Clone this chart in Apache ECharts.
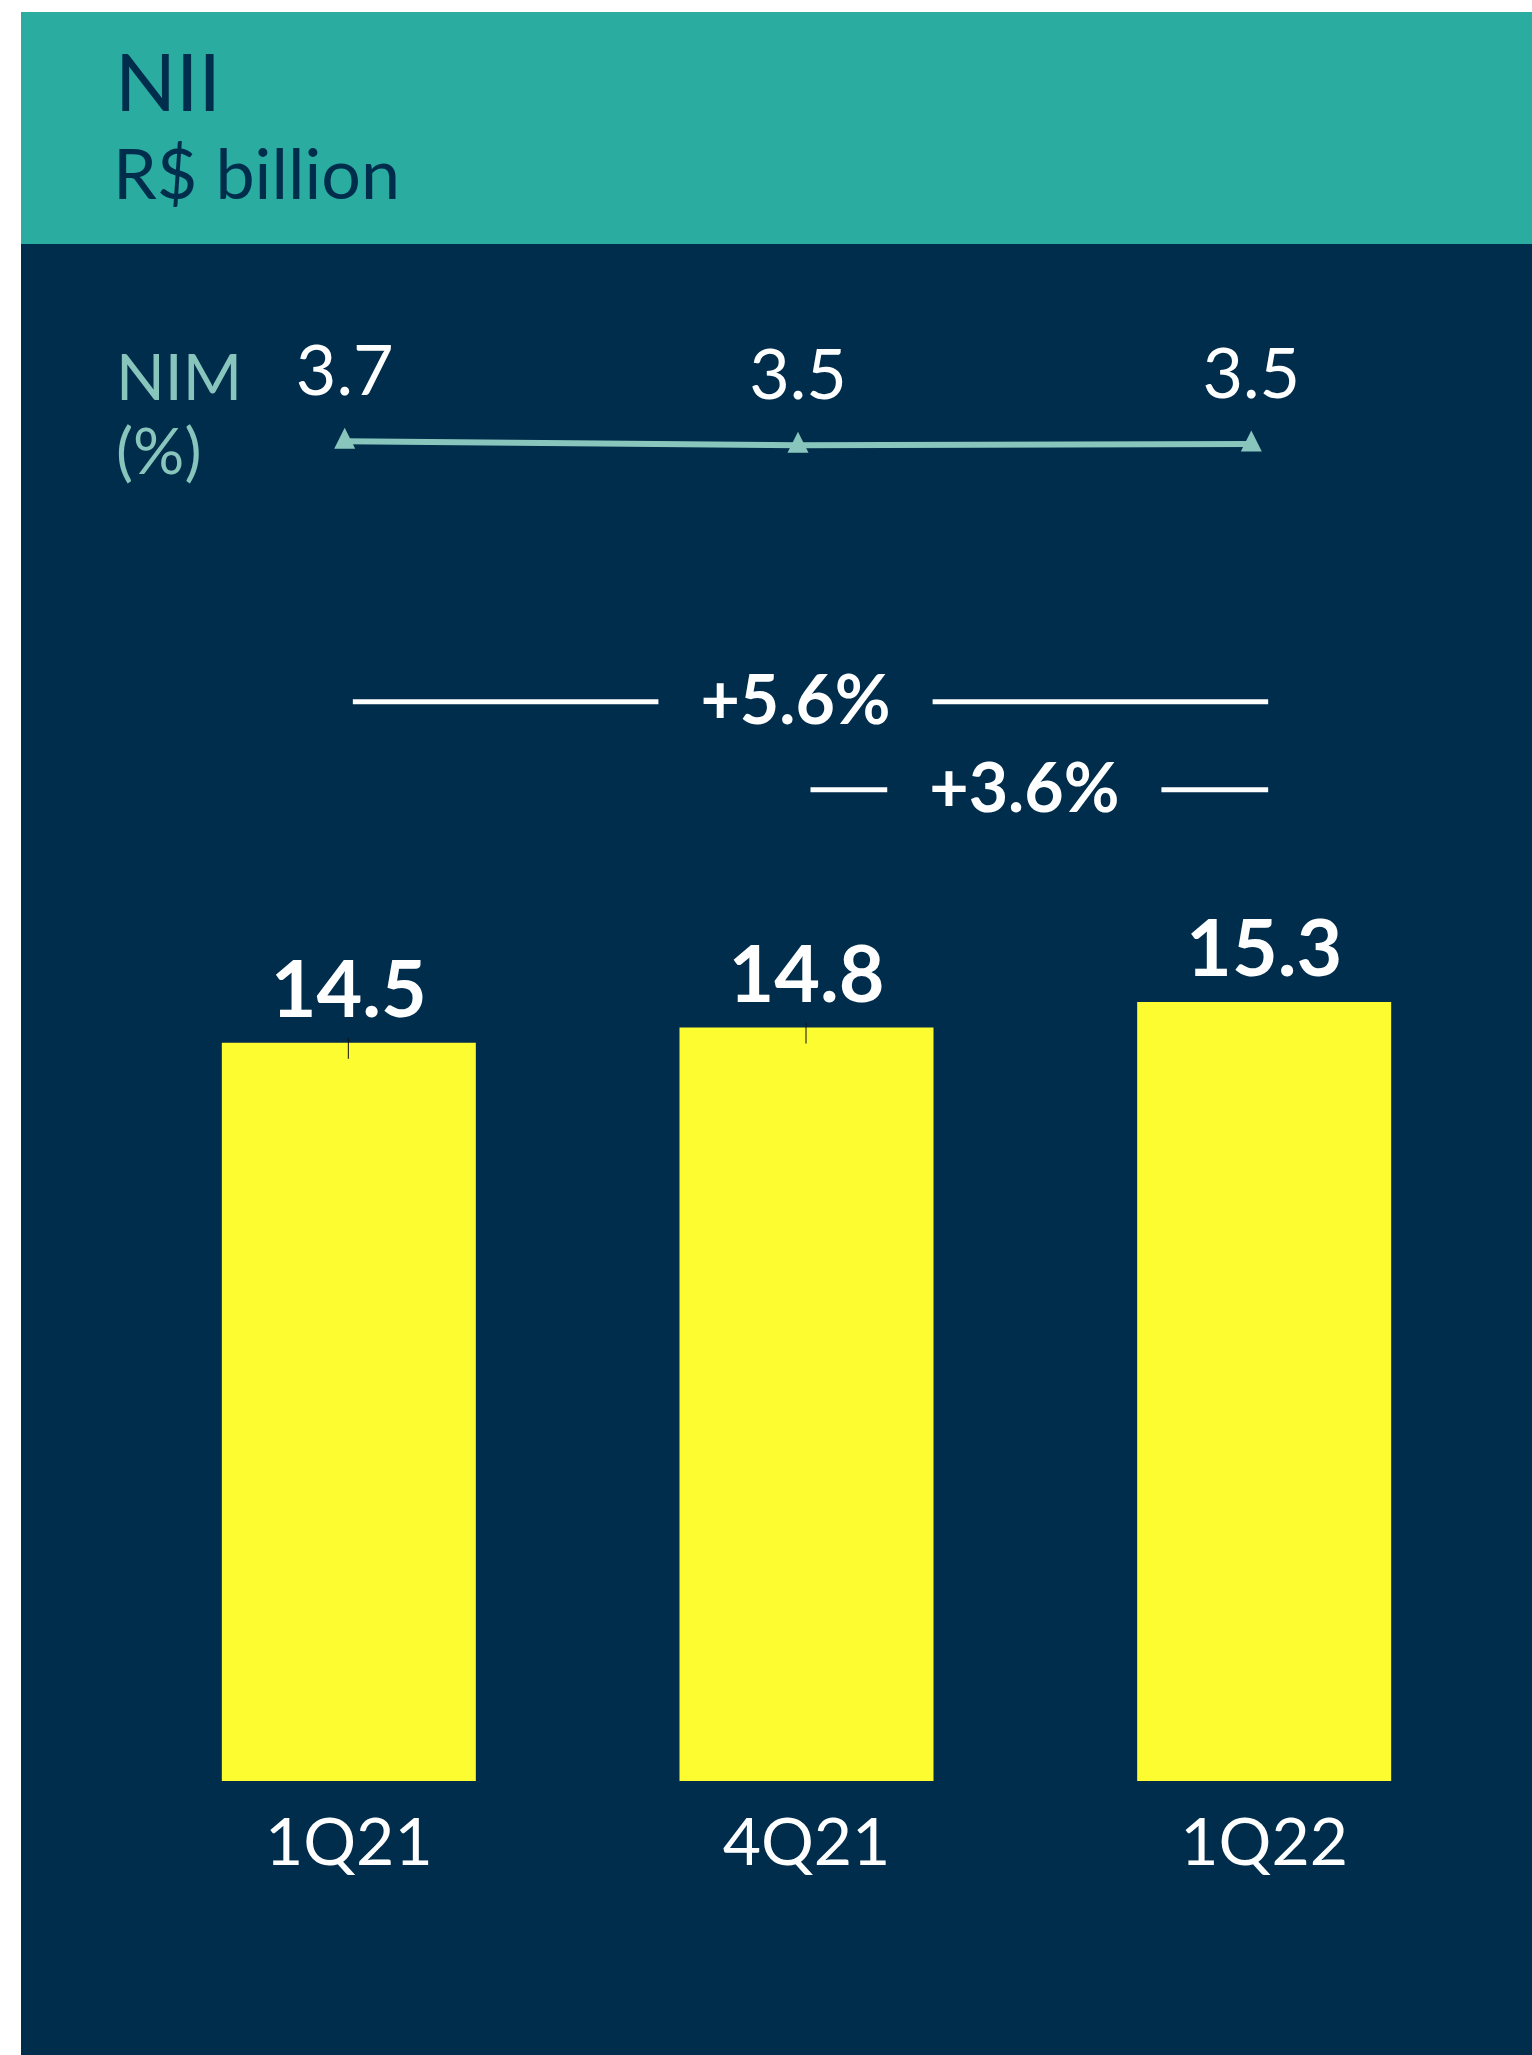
<!DOCTYPE html>
<html>
<head>
<meta charset="utf-8">
<script src="https://cdn.jsdelivr.net/npm/echarts@6.0.0/dist/echarts.min.js"></script>
<style>
  html, body { margin: 0; padding: 0; background: #fff; }
  #chart { width: 1532px; height: 2055px; }
</style>
</head>
<body>
<div id="chart"></div>
<script>
// data
const quarters = ['1Q21', '4Q21', '1Q22'];
const nii = [14.5, 14.8, 15.3];
const nim = [3.7, 3.47, 3.54];
const tickData = [[0, 14.5], [1, 14.8]];
const growthFrom = [0, 1];
const growthTo = [2, 2];
const growthLevel = [21.2, 19.47];
const growthLabels = ['+5.6%', '+3.6%'];

const NAVY = '#002d4c';
const TEAL = '#2aaca0';
const MINT = '#88c6bd';
const YELLOW = '#fcfc30';
const FONT = 'Lato';

const chart = echarts.init(document.getElementById('chart'));

const growthData = growthLabels.map((label, i) => [growthFrom[i], growthTo[i], growthLevel[i], label]);

const option = {
  backgroundColor: '#fff',
  animation: false,
  textStyle: { fontFamily: FONT },
  graphic: [
    { type: 'rect', z: 0, shape: { x: 21, y: 12, width: 1511, height: 232 }, style: { fill: TEAL } },
    { type: 'rect', z: 0, shape: { x: 21, y: 244, width: 1511, height: 1811 }, style: { fill: NAVY } }
  ],
  title: [
    { text: 'NII', left: 110, top: 40, textStyle: { color: NAVY, fontSize: 80, fontWeight: 'normal', fontFamily: FONT } },
    { text: 'R$ billion', left: 108, top: 136, textStyle: { color: NAVY, fontSize: 70, fontWeight: 'normal', fontFamily: FONT } },
    { text: 'NIM\n(%)', left: 111, top: 337, textStyle: { color: MINT, fontSize: 64, lineHeight: 74, fontWeight: 'normal', fontFamily: FONT } }
  ],
  grid: [
    { left: 118, right: 54, top: 331, height: 175 },
    { left: 120, right: 39, top: 661, bottom: 274 }
  ],
  xAxis: [
    { type: 'category', gridIndex: 0, data: quarters, show: false },
    {
      type: 'category', gridIndex: 1, data: quarters,
      axisLine: { show: false }, axisTick: { show: false },
      axisLabel: { color: '#fff', fontSize: 66, fontFamily: FONT, margin: 30 }
    }
  ],
  yAxis: [
    { type: 'value', gridIndex: 0, min: 0, max: 10, show: false },
    { type: 'value', gridIndex: 1, min: 0, max: 22, show: false }
  ],
  series: [
    {
      type: 'line', xAxisIndex: 0, yAxisIndex: 0, data: nim,
      lineStyle: { color: MINT, width: 6 },
      itemStyle: { color: MINT },
      symbol: 'triangle', symbolSize: [21, 21], symbolOffset: [0, -3],
      label: {
        show: true, position: 'top', distance: 20,
        color: '#fff', fontSize: 70, fontFamily: FONT,
        formatter: p => p.value.toFixed(1)
      }
    },
    {
      type: 'bar', xAxisIndex: 1, yAxisIndex: 1, data: nii,
      barWidth: '55.5%',
      itemStyle: { color: YELLOW },
      label: {
        show: true, position: 'top', distance: 12,
        color: '#fff', fontSize: 79, fontWeight: 'bold', fontFamily: FONT
      }
    },
    {
      type: 'custom', xAxisIndex: 1, yAxisIndex: 1, data: tickData, z: 5,
      renderItem: (params, api) => {
        const p = api.coord([api.value(0), api.value(1)]);
        return {
          type: 'line',
          shape: { x1: p[0] - 0.5, y1: p[1] - 5, x2: p[0] - 0.5, y2: p[1] + 16 },
          style: { stroke: '#111', lineWidth: 1 }
        };
      }
    },
    {
      type: 'custom', xAxisIndex: 1, yAxisIndex: 1, data: growthData, z: 5,
      renderItem: (params, api) => {
        const a = api.coord([api.value(0), api.value(2)]);
        const b = api.coord([api.value(1), api.value(2)]);
        const x1 = a[0] + 4, x2 = b[0] + 4, y = a[1];
        const mid = (x1 + x2) / 2 - 15;
        return {
          type: 'group',
          children: [
            { type: 'line', shape: { x1: x1, y1: y, x2: x2, y2: y }, style: { stroke: '#fff', lineWidth: 5 } },
            {
              type: 'text', z2: 10,
              style: {
                text: growthLabels[params.dataIndex], x: mid, y: y,
                align: 'center', verticalAlign: 'middle',
                fill: '#fff', font: 'bold 68px ' + FONT,
                backgroundColor: NAVY, padding: [4, 42]
              }
            }
          ]
        };
      }
    }
  ]
};

chart.setOption(option);
</script>
</body>
</html>
